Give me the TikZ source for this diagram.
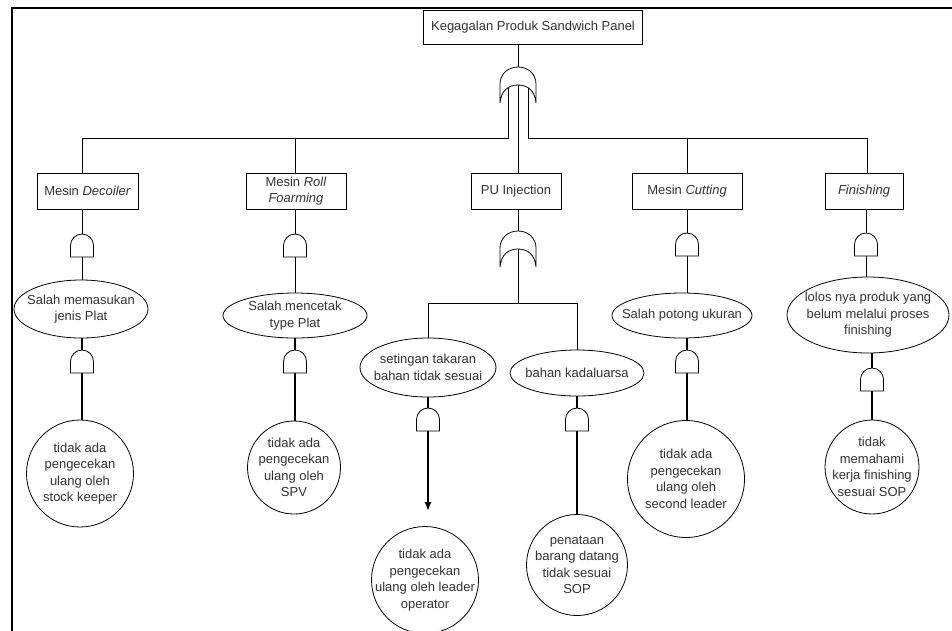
\documentclass[tikz,border=0pt]{standalone}
\usepackage{fontspec}
\setmainfont{Liberation Sans}
\usetikzlibrary{arrows.meta,shapes.geometric}
\tikzset{
  txt/.style={font=\fontsize{13}{16.5}\selectfont, text=black!80, align=center, inner sep=0pt},
  boxn/.style={draw, line width=0.8pt, minimum height=36pt, inner sep=0pt, align=center, font=\fontsize{13}{16.5}\selectfont, text=black!80},
  ell/.style={draw, ellipse, line width=0.8pt, inner sep=0pt},
  circ/.style={draw, circle, line width=0.8pt, inner sep=0pt},
  thinln/.style={line width=0.8pt},
  thickln/.style={line width=1.8pt},
  pics/andg/.style={code={
    \draw[line width=0.8pt] (-11.5,23) -- (-11.5,11.5) .. controls (-11.5,5.15) and (-6.35,0) .. (0,0) .. controls (6.35,0) and (11.5,5.15) .. (11.5,11.5) -- (11.5,23) -- cycle;
    \coordinate (-top) at (0,0);
    \coordinate (-bot) at (0,23);}},
  pics/org/.style={code={
    \draw[line width=0.8pt] (-18,36) -- (-18,17) .. controls (-18,7) and (-10,0) .. (0,0) .. controls (10,0) and (18,7) .. (18,17) -- (18,36) .. controls (17,24) and (10,18) .. (0,18) .. controls (-10,18) and (-17,24) .. (-18,36) -- cycle;
    \coordinate (-out) at (0,0);
    \coordinate (-in) at (0,18);
    \coordinate (-l) at (-10,20.5);
    \coordinate (-r) at (10,20.5);}}
}
\begin{document}
\begin{tikzpicture}[x=1pt,y=-1pt]
\useasboundingbox (0,0) rectangle (952,630);
% frame
\draw[line width=2.6pt] (12,632) -- (12,8) -- (954,8);

% top event
\node[boxn, minimum width=219pt, minimum height=34pt] (top) at (533,27) {Kegagalan Produk Sandwich Panel};
\pic (g0) at (518,67) {org};

% level 2 boxes
\node[boxn, minimum width=101pt] (dec) at (87.5,191) {Mesin \textit{Decoiler}};
\node[boxn, minimum width=100pt] (roll) at (296,191) {Mesin \textit{Roll}\\\textit{Foarming}};
\node[boxn, minimum width=90pt] (pu) at (516,191) {PU Injection};
\node[boxn, minimum width=110pt] (cut) at (687,191) {Mesin \textit{Cutting}};
\node[boxn, minimum width=78pt] (fin) at (864,191) {\textit{Finishing}};

\coordinate (busA) at (82,138);
\coordinate (busB) at (295,138);
\coordinate (busD) at (687,138);
\coordinate (busE) at (867,138);

\draw[thinln] (top.south -| g0-out) -- (g0-out);
\draw[thinln] (g0-l) |- (busA) -- (busA |- dec.north);
\draw[thinln] (busB) -- (busB |- roll.north);
\draw[thinln] (g0-r) |- (busE) -- (busE |- fin.north);
\draw[thinln] (busD) -- (busD |- cut.north);
\draw[thinln] (g0-in) -- (g0-in |- pu.north);

% gates
\pic (gA1) at (82,234) {andg};
\pic (gA2) at (82,350) {andg};
\pic (gB1) at (295,234) {andg};
\pic (gB2) at (295,350) {andg};
\pic (gD1) at (687,233) {andg};
\pic (gD2) at (687,350) {andg};
\pic (gE1) at (866,233) {andg};
\pic (gE2) at (872,368) {andg};
\pic (gS) at (428,408) {andg};
\pic (gK) at (577,408) {andg};
\pic (gP) at (518,231) {org};

% ellipses
\node[ell, minimum width=134pt, minimum height=58pt] (e1) at (81,309) {};
\node[txt] (e1t) at (e1) {Salah memasukan\\jenis Plat};
\node[ell, minimum width=144pt, minimum height=45pt] (e2) at (295,315.5) {};
\node[txt] (e2t) at (e2) {Salah mencetak\\type Plat};
\node[ell, minimum width=136pt, minimum height=59pt] (e3) at (428,367.5) {};
\node[txt] (e3t) at (e3) {setingan takaran\\bahan tidak sesuai};
\node[ell, minimum width=134pt, minimum height=46pt] (e4) at (577,373) {};
\node[txt] (e4t) at (e4) {bahan kadaluarsa};
\node[ell, minimum width=140pt, minimum height=45pt] (e5) at (682,315.5) {};
\node[txt] (e5t) at (e5) {Salah potong ukuran};
\node[ell, minimum width=162pt, minimum height=76pt] (e6) at (868,315) {};
\node[txt] (e6t) at (e6) {lolos nya produk yang\\belum melalui proses\\finishing};

% circles
\node[circ, minimum size=107pt] (c1) at (80,473.5) {};
\node[txt] (c1t) at (c1) {tidak ada\\pengecekan\\ulang oleh\\stock keeper};
\node[circ, minimum size=93pt] (c2) at (294,467.5) {};
\node[txt] (c2t) at (c2) {tidak ada\\pengecekan\\ulang oleh\\SPV};
\node[circ, minimum size=107pt] (c3) at (425,580) {};
\node[txt] (c3t) at (c3) {tidak ada\\pengecekan\\ulang oleh leader\\operator};
\node[circ, minimum size=101pt] (c4) at (577,565) {};
\node[txt] (c4t) at (c4) {penataan\\barang datang\\tidak sesuai\\SOP};
\node[circ, minimum size=117pt] (c5) at (686,479) {};
\node[txt] (c5t) at (c5) {tidak ada\\pengecekan\\ulang oleh\\second leader};
\node[circ, minimum size=94pt] (c6) at (872,467) {};
\node[txt] (c6t) at (c6) {tidak\\memahami\\kerja finishing\\sesuai SOP};

% Decoiler branch
\draw[thinln] (dec.south -| gA1-top) -- (gA1-top);
\draw[thinln] (gA1-bot) -- (gA1-bot |- e1.north);
\draw[thickln] (e1.south -| gA2-top) -- (gA2-top);
\draw[thickln] (gA2-bot) -- (gA2-bot |- c1.north);

% Roll branch
\draw[thinln] (roll.south -| gB1-top) -- (gB1-top);
\draw[thinln] (gB1-bot) -- (gB1-bot |- e2.north);
\draw[thickln] (e2.south -| gB2-top) -- (gB2-top);
\draw[thickln] (gB2-bot) -- (gB2-bot |- c2.north);

% PU branch
\coordinate (busP) at (518,303);
\coordinate (busS) at (428,303);
\coordinate (busK) at (577,303);
\draw[thinln] (pu.south -| gP-out) -- (gP-out);
\draw[thinln] (gP-in) -- (busP);
\draw[thinln] (busS) -- (busK);
\draw[thinln] (busS) -- (busS |- e3.north);
\draw[thinln] (busK) -- (busK |- e4.north);
\draw[thickln] (e3.south -| gS-top) -- (gS-top);
\draw[thickln, -{Latex[length=9pt,width=7pt]}, shorten >=15pt] (gS-bot) -- (gS-bot |- c3.north);
\draw[thickln] (e4.south -| gK-top) -- (gK-top);
\draw[thickln] (gK-bot) -- (gK-bot |- c4.north);

% Cutting branch
\draw[thinln] (cut.south -| gD1-top) -- (gD1-top);
\draw[thinln] (gD1-bot) -- (gD1-bot |- e5.north);
\draw[thickln] (e5.south -| gD2-top) -- (gD2-top);
\draw[thickln] (gD2-bot) -- (gD2-bot |- c5.north);

% Finishing branch
\draw[thinln] (fin.south -| gE1-top) -- (gE1-top);
\draw[thinln] (gE1-bot) -- (gE1-bot |- e6.north);
\draw[thickln] (e6.south -| gE2-top) -- (gE2-top);
\draw[thickln] (gE2-bot) -- (gE2-bot |- c6.north);
\end{tikzpicture}
\end{document}
